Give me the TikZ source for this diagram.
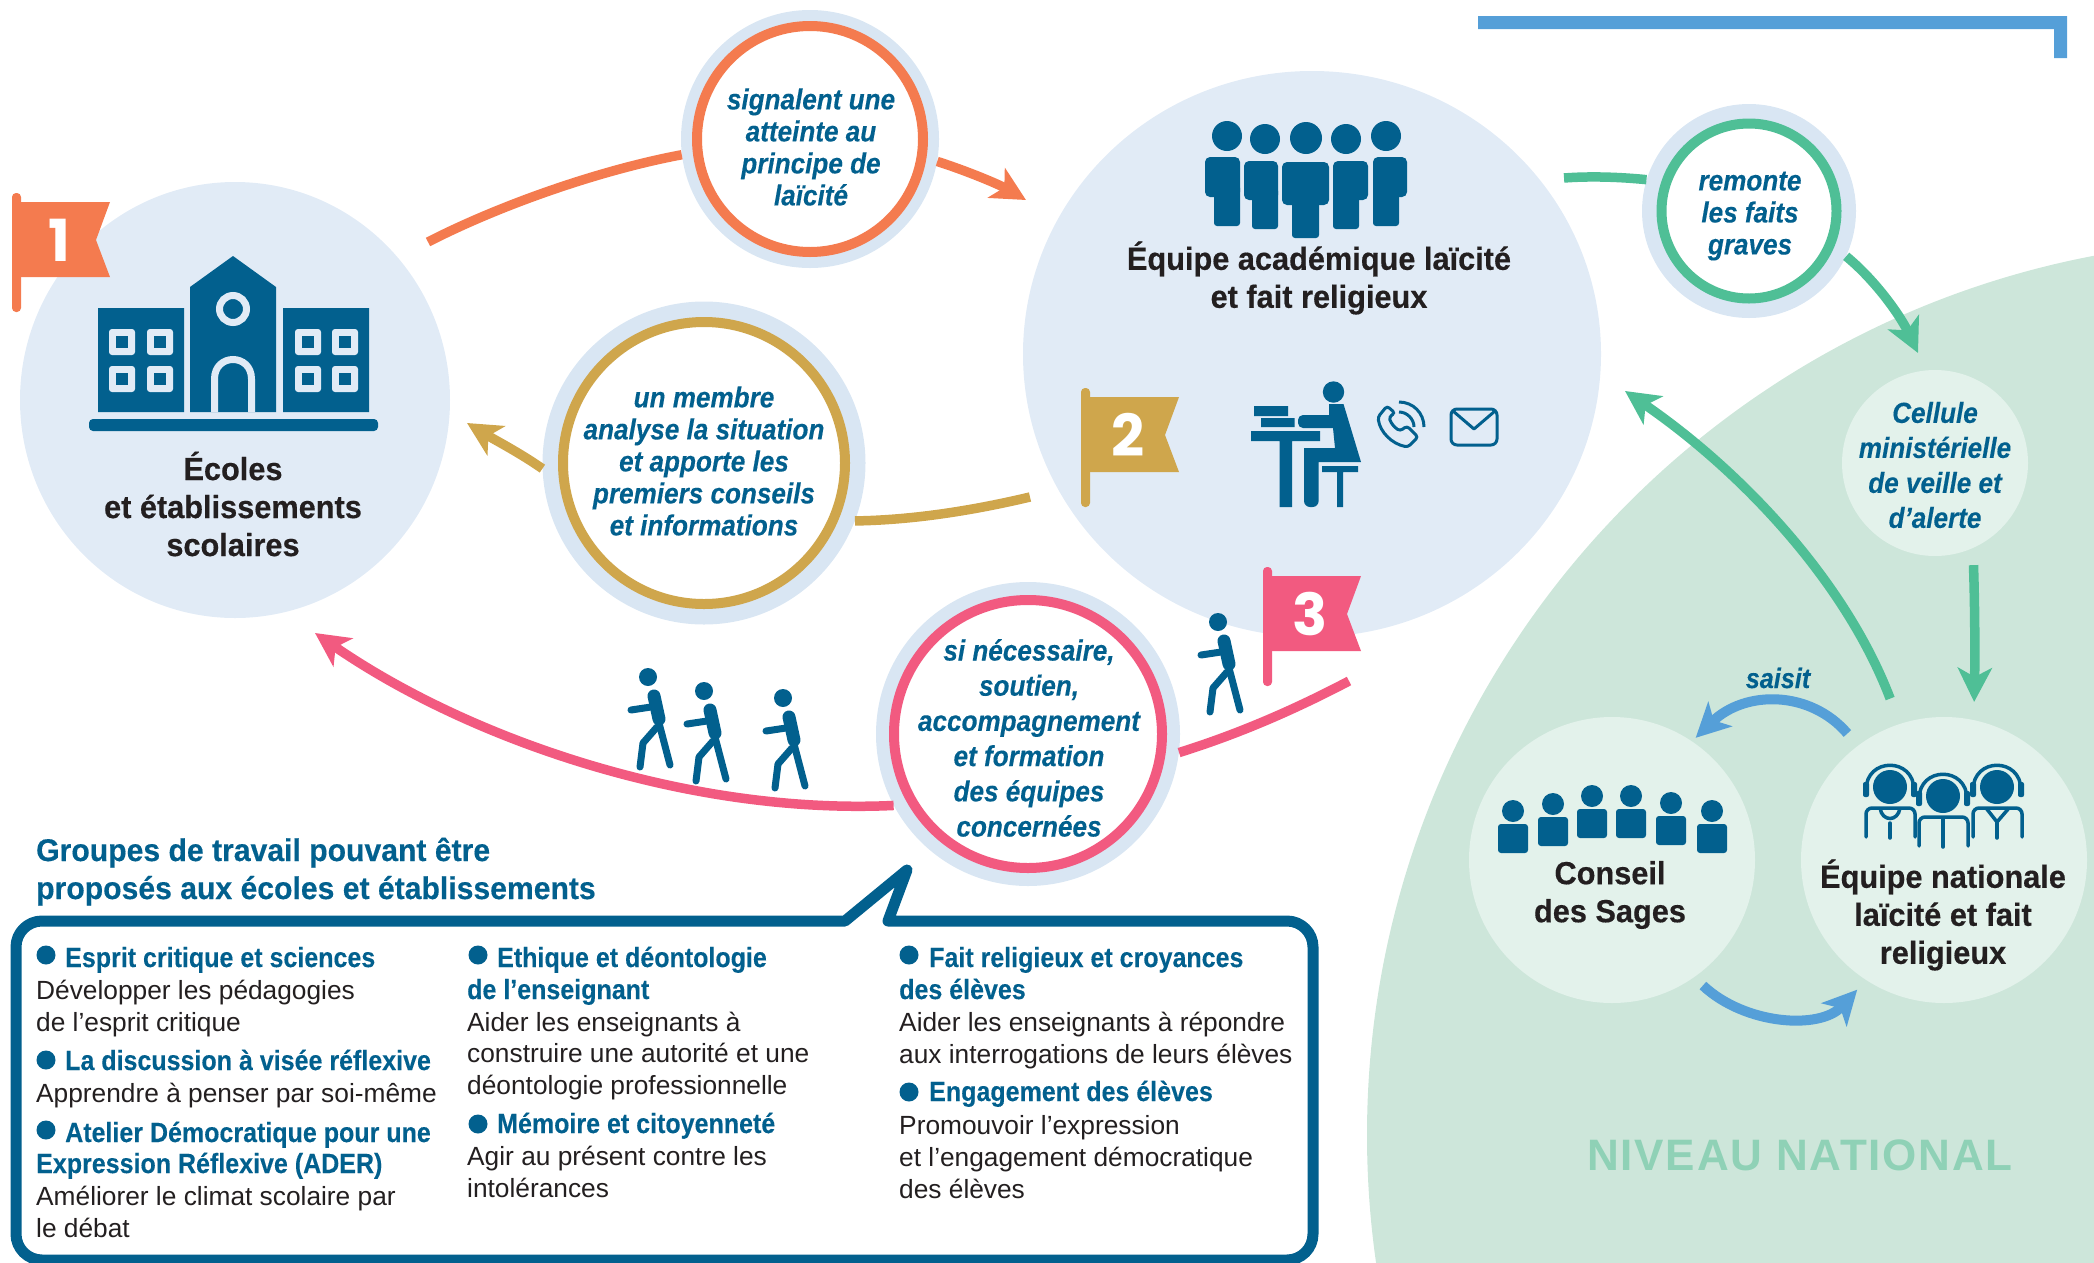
\documentclass[tikz,border=0pt]{standalone}
\usepackage{fontspec}
\usetikzlibrary{arrows.meta,shapes.geometric}
\setmainfont{Liberation Sans}
\newfontfamily\condfont[FakeStretch=.9,FakeBold=.2]{Liberation Sans Bold}
\newfontfamily\slantfont[FakeStretch=.9,FakeBold=.2]{Liberation Sans Bold Italic}
\newfontfamily\heavyfont[FakeStretch=.96,FakeBold=.4]{Liberation Sans Bold}
\newfontfamily\levelfont[LetterSpace=4]{Liberation Sans}
\newfontfamily\flagfont{Poppins}

\definecolor{navy}{HTML}{02608E}
\definecolor{inkblack}{HTML}{231F20}
\definecolor{palecircle}{HTML}{E1EBF6}
\definecolor{halocircle}{HTML}{D9E6F3}
\definecolor{orangeline}{HTML}{F47B4F}
\definecolor{goldline}{HTML}{CFA64C}
\definecolor{pinkline}{HTML}{F25A80}
\definecolor{greenline}{HTML}{4FBF96}
\definecolor{blueline}{HTML}{559FD8}
\definecolor{greenback}{HTML}{CDE6DA}
\definecolor{greenpale}{HTML}{E3F2EB}
\definecolor{greenword}{HTML}{8FD1B6}

\tikzset{
  disc/.style={circle, inner sep=0pt, minimum size=#1},
  halo/.style={disc=#1, fill=halocircle},
  ring/.style={circle, inner sep=0pt, fill=white, line width=10pt},
  oval/.style={ellipse, inner sep=0pt, fill=palecircle},
  title/.style={align=center, text=inkblack, font=\heavyfont\fontsize{32}{38}\selectfont},
  tag/.style={align=center, text=navy, font=\slantfont\fontsize{29}{32}\selectfont},
  boxhead/.style={anchor=base west, inner sep=0pt, text=navy, font=\condfont\fontsize{27.8}{32}\selectfont},
  boxtext/.style={anchor=base west, inner sep=0pt, text=inkblack, font=\fontsize{26.3}{32}\selectfont},
  grouphead/.style={anchor=base west, inner sep=0pt, text=navy, font=\heavyfont\fontsize{31.4}{38}\selectfont},
  link/.style={line width=9.5pt, -{Stealth[length=34pt,width=34pt,inset=9pt]}},
  plain link/.style={line width=9.5pt},
}

% pole top left x, y, colour, digit
\newcommand{\flagmark}[4]{
  \fill[#3, rounded corners=4pt] (#1,#2) rectangle ++(9,119);
  \fill[#3] (#1+5,#2+9) -- (#1+98,#2+9) -- (#1+84,#2+47) -- (#1+98,#2+84) -- (#1+5,#2+84) -- cycle;
  \node[text=white, font=\flagfont\bfseries\fontsize{58}{58}\selectfont] (flag#4) at (#1+47,#2+47) {#4};
}

\begin{document}
\begin{tikzpicture}[x=1pt, y=-1pt]
\clip (0,0) rectangle (2094,1262);
% draw backgrounds
	\fill[greenback] (2262,1135) circle (895);
	\node[oval, minimum width=430pt, minimum height=436pt] (school) at (235,400) {};
	\node[oval, minimum width=578pt, minimum height=566pt] (aca) at (1312,354) {};
	\node[disc=186pt, fill=greenpale] (cel) at (1935,463) {};
	\node[disc=286pt, fill=greenpale] (con) at (1612,860) {};
	\node[disc=286pt, fill=greenpale] (nat) at (1944,860) {};
	\fill[blueline] (1478,16) rectangle (2067,29) (2054,29) rectangle (2067,58);

% draw the small circles
	\node[halo=258pt] (sigh) at (810,139) {};
	\node[ring, draw=orangeline, minimum size=226pt] (sig) at (810,139) {};
	\node[tag] (sigtxt) at (811,147) {signalent une\\atteinte au\\principe de\\laïcité};
	\node[halo=323pt] (memh) at (704,463) {};
	\node[ring, draw=goldline, minimum size=282pt] (mem) at (704,463) {};
	\node[tag] (memtxt) at (704,461) {un membre\\analyse la situation\\et apporte les\\premiers conseils\\et informations};
	\node[halo=304pt] (suph) at (1028,734) {};
	\node[ring, draw=pinkline, minimum size=268pt] (sup) at (1028,734) {};
	\node[tag, font=\slantfont\fontsize{29}{35.2}\selectfont] (suptxt) at (1029,738) {si nécessaire,\\soutien,\\accompagnement\\et formation\\des équipes\\concernées};
	\node[halo=214pt] (remh) at (1749,211) {};
	\node[ring, draw=greenline, minimum size=175pt] (rem) at (1749,211) {};
	\node[tag] (remtxt) at (1750,216) {remonte\\les faits\\graves};

% draw connectors
	\coordinate (schoolout) at (428,242);
	\coordinate (acagold) at (1030,497);
	\coordinate (acapink) at (1349,681);
	\coordinate (acagreen) at (1564,178);
	\draw[plain link, orangeline] (schoolout) .. controls (500,205) and (600,170) .. (sigh.187);
	\draw[link, orangeline] (sigh.-10) .. controls (970,172) and (1000,185) .. (1026,200);
	\draw[plain link, goldline] (acagold) .. controls (975,510) and (915,520) .. (memh.-21);
	\draw[link, goldline] (memh.182) .. controls (520,453) and (495,440) .. (467,423);
	\draw[plain link, pinkline] (acapink) .. controls (1290,712) and (1235,735) .. (suph.-7);
	\draw[link, pinkline] (suph.208) .. controls (690,815) and (470,740) .. (315,633);
	\draw[plain link, greenline] (acagreen) .. controls (1590,176) and (1620,177) .. (remh.163);
	\draw[link, greenline] (remh.-25) .. controls (1875,280) and (1900,315) .. (1918,353);
	\draw[link, greenline, shorten <=17pt, shorten >=18pt] (cel.-66) .. controls (1975,610) and (1975,660) .. (nat.78);
	\draw[link, greenline, shorten <=27pt] (nat.108) .. controls (1845,580) and (1740,470) .. (1625,391);
	\draw[link, blueline, line width=10pt, shorten <=16pt, shorten >=5pt] (nat.127) .. controls (1810,690) and (1745,690) .. (con.56);
	\draw[link, blueline, line width=10pt, shorten <=12pt, shorten >=13pt] (con.-55) .. controls (1745,1025) and (1820,1030) .. (nat.-123);
	\node[text=navy, font=\slantfont\fontsize{28}{32}\selectfont] (saisit) at (1778,678) {saisit};

% draw flags
	\flagmark{12}{193}{orangeline}{1}
	\flagmark{1081}{388}{goldline}{2}
	\flagmark{1263}{567}{pinkline}{3}

% draw school
	\fill[navy] (98,308) rectangle (184,412) (283,308) rectangle (369,412);
	\fill[navy] (190,412) -- (190,287) -- (233,256) -- (276,287) -- (276,412) -- cycle;
	\fill[navy, rounded corners=4pt] (89,431) -- (89,419) -- (378,419) -- (378,431) -- cycle;
	\draw[palecircle, line width=7pt] (233,309) circle (13.5);
	\draw[palecircle, line width=7pt] (214.5,412) -- (214.5,379) .. controls (214.5,353) and (251.5,353) .. (251.5,379) -- (251.5,412);
	\foreach \x in {109,147,295,332}
	  \foreach \y in {329,366} {
	    \fill[palecircle, rounded corners=3pt] (\x,\y) rectangle ++(26,26);
	    \fill[navy] (\x+7,\y+7) rectangle ++(12,12);
	  }
	\node[title] (schooltxt) at (233,504) {Écoles\\et établissements\\scolaires};

% draw academic team
	\foreach \hx/\hy/\hr/\xl/\xr/\top/\arm/\legl/\legr/\bot in {1227/136/15/1205/1240/157/197/1214/1240/226, 1265/139/15/1244/1278/161/200/1252/1278/229, 1346/139/15/1333/1368/161/200/1333/1359/229, 1386/136/15/1373/1407/157/197/1373/1399/226, 1306/138/16/1282/1329/162/205/1292/1319/238} {
	    \fill[navy] (\hx,\hy) circle (\hr);
	    \fill[navy, rounded corners=5pt] (\xl,\top) rectangle (\xr,\arm);
	    \fill[navy, rounded corners=3pt] (\legl,\arm-12) rectangle (\legr,\bot);
	}
	\node[title] (acatxt) at (1319,278) {Équipe académique laïcité\\et fait religieux};

% draw desk, phone and mail
	\fill[navy] (1333.5,392) circle (10.7);
	\fill[navy] (1254,406) rectangle (1288,416) (1261,418) rectangle (1294.5,427) (1251,431) rectangle (1320,441) (1279.6,441) rectangle (1292,507);
	\fill[navy] (1329,404) -- (1343.5,404) -- (1361,462) -- (1318.6,462) -- (1318.6,500) [rounded corners=6pt] -- (1318.6,507) -- (1304,507) [sharp corners] -- (1304,448) -- (1335,448) -- (1333,428) -- (1305,428) [rounded corners=5pt] -- (1298,428) -- (1298,415) [sharp corners] -- (1329,415) -- cycle;
	\fill[navy] (1322,466) rectangle (1358,472) (1337,472) rectangle (1343,507);
	\draw[navy, line width=3pt, rounded corners=3pt] (1387,406) -- (1378,417) .. controls (1380,432) and (1392,444) .. (1408,447) -- (1418,437) -- (1407,426) -- (1400,431) .. controls (1394,427) and (1391,423) .. (1389,417) -- (1395,413) -- cycle;
	\draw[navy, line width=3pt] (1399,402) .. controls (1413,402) and (1424,413) .. (1424,427) (1399,412) .. controls (1407,412) and (1414,419) .. (1414,427);
	\draw[navy, line width=3pt, rounded corners=6pt] (1451,409) rectangle (1497,445);
	\draw[navy, line width=3pt, line join=round] (1453,411) -- (1474,429) -- (1495,411);

% draw walkers
	\foreach \hx/\hy in {648/677,704/691,783/698,1218/622} {
	    \fill[navy] (\hx,\hy) circle (9);
	    \draw[navy, line width=13pt, line cap=round] (\hx+6,\hy+19) -- (\hx+11,\hy+42);
	    \draw[navy, line width=7pt, line cap=round, line join=round] (\hx+6,\hy+26) -- (\hx+3,\hy+30) -- (\hx-17,\hy+33);
	    \draw[navy, line width=7pt, line cap=round, line join=round] (\hx+11,\hy+46) -- (\hx+22,\hy+88);
	    \draw[navy, line width=7pt, line cap=round, line join=round] (\hx+9,\hy+50) -- (\hx-5,\hy+66) -- (\hx-8,\hy+90);
	}

% draw the sages
	\foreach \hx/\hy in {1513/811,1553/804,1592/796,1631/796,1671/803,1712/811} {
	    \fill[navy] (\hx,\hy) circle (11);
	    \fill[navy, rounded corners=3pt] (\hx-15,\hy+42) -- (\hx-15,\hy+13) -- (\hx+15,\hy+13) -- (\hx+15,\hy+42) -- cycle;
	}
	\node[title] (contxt) at (1610,895) {Conseil\\des Sages};

% draw national team
	\foreach \hx/\hy in {1890/787,1943/796,1997/787} {
	    \fill[navy] (\hx,\hy) circle (17);
	    \draw[navy, line width=3.5pt] (\hx-24,\hy+3) .. controls (\hx-24,\hy-30) and (\hx+24,\hy-30) .. (\hx+24,\hy+3);
	    \fill[navy, rounded corners=2pt] (\hx-27,\hy-5) rectangle (\hx-21,\hy+10) (\hx+21,\hy-5) rectangle (\hx+27,\hy+10);
	    \draw[navy, line width=3.5pt, line cap=round, rounded corners=6pt] (\hx-24,\hy+50) -- (\hx-24,\hy+21) -- (\hx+25,\hy+21) -- (\hx+25,\hy+50);
	    \draw[navy, line width=3.5pt, line cap=round] (\hx,\hy+36) -- (\hx,\hy+51);
	}
	\draw[navy, line width=3.5pt] (1880,808) .. controls (1882,822) and (1898,822) .. (1900,808);
	\draw[navy, line width=3.5pt] (1943,817) -- (1943,835);
	\draw[navy, line width=3.5pt] (1986,808) -- (1997,822) -- (2009,808);
	\node[title] (nattxt) at (1943,915) {Équipe nationale\\laïcité et fait\\religieux};
	\node[tag, font=\slantfont\fontsize{29}{35}\selectfont] (celtxt) at (1935,465) {Cellule\\ministérielle\\de veille et\\d’alerte};
	\node[text=greenword, font=\levelfont\bfseries\fontsize{44}{44}\selectfont] (level) at (1800,1155) {NIVEAU NATIONAL};

% draw box
	\node[grouphead] (grp1) at (36,861) {Groupes de travail pouvant être};
	\node[grouphead] (grp2) at (36,899) {proposés aux écoles et établissements};
	\draw[navy, line width=11pt, fill=white, line join=round] (888,921) [rounded corners=26pt] -- (1313,921) -- (1313,1260) -- (16,1260) -- (16,921) -- (700,921) [sharp corners] -- (845,921) -- (907,870) -- cycle;

	\foreach \x/\y in {46/955,46/1060,46/1130,478/955,478/1124,909/955,909/1092}
	    \fill[navy] (\x,\y) circle (9.5);
	\foreach \x/\y/\txt in {65/967/{Esprit critique et sciences}, 65/1070/{La discussion à visée réflexive}, 65/1142/{Atelier Démocratique pour une}, 36/1173/{Expression Réflexive (ADER)}, 497/967/{Ethique et déontologie}, 467/999/{de l’enseignant}, 497/1133/{Mémoire et citoyenneté}, 929/967/{Fait religieux et croyances}, 899/999/{des élèves}, 929/1101/{Engagement des élèves}}
	    \node[boxhead] (head\x-\y) at (\x,\y) {\txt};
	\foreach \x/\y/\txt in {36/999/{Développer les pédagogies}, 36/1031/{de l’esprit critique}, 36/1102/{Apprendre à penser par soi-même}, 36/1205/{Améliorer le climat scolaire par}, 36/1237/{le débat}, 467/1031/{Aider les enseignants à}, 467/1062/{construire une autorité et une}, 467/1094/{déontologie professionnelle}, 467/1165/{Agir au présent contre les}, 467/1197/{intolérances}, 899/1031/{Aider les enseignants à répondre}, 899/1063/{aux interrogations de leurs élèves}, 899/1134/{Promouvoir l’expression}, 899/1166/{et l’engagement démocratique}, 899/1198/{des élèves}}
	    \node[boxtext] (text\x-\y) at (\x,\y) {\txt};
\end{tikzpicture}
\end{document}
